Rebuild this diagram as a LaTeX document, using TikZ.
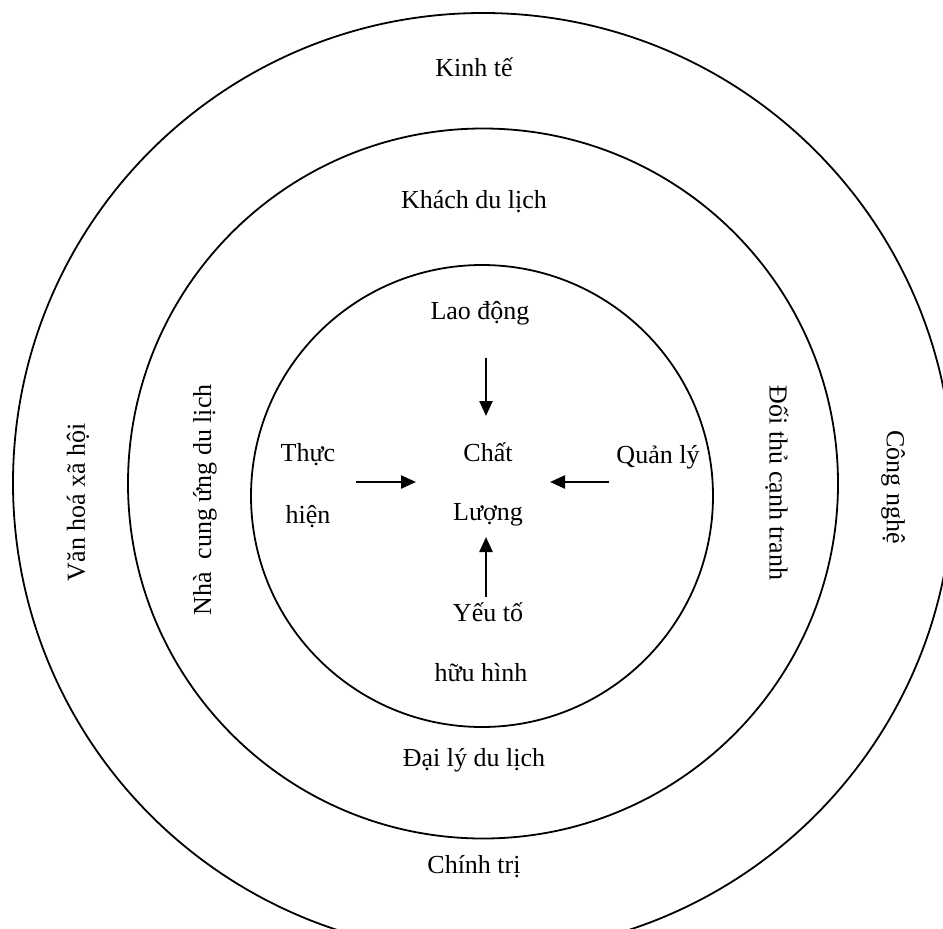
\documentclass[tikz,border=0pt]{standalone}
\usepackage{fontspec}
\setmainfont{Liberation Serif}
\usetikzlibrary{arrows.meta}
\tikzset{
  ring/.style={draw=black, line width=1.8pt},
  lbl/.style={font=\fontsize{26}{28}\selectfont, inner sep=0pt, anchor=center},
  arr/.style={line width=2.4pt, -{Triangle[length=15pt,width=13pt]}}
}
\begin{document}
\begin{tikzpicture}[x=1pt,y=-1pt]
\useasboundingbox (0,0) rectangle (943,929);
% rings
\draw[ring] (483,483) circle[radius=470];
\draw[ring] (483,483.5) circle[radius=355];
\draw[ring] (482,496) circle[radius=231];
% outer ring labels
\node[lbl] (kinhte) at (474,67) {Kinh tế};
\node[lbl] (chinhtri) at (474,867) {Chính trị};
\node[lbl, rotate=90] (vanhoa) at (78,502) {Văn hoá xã hội};
\node[lbl, rotate=-90] (congnghe) at (893,487) {Công nghệ};
% middle ring labels
\node[lbl] (khach) at (474,202) {Khách du lịch};
\node[lbl] (daily) at (474,760) {Đại lý du lịch};
\node[lbl, rotate=90] (nhacungung) at (205,500) {Nhà\ \ cung ứng du lịch};
\node[lbl, rotate=-90] (doithu) at (777,483) {Đối thủ cạnh tranh};
% inner labels
\node[lbl] (laodong) at (480,313) {Lao động};
\node[lbl] (chat) at (488,452) {Chất};
\node[lbl] (luong) at (488,515) {Lượng};
\node[lbl] (thuc) at (308,455) {Thực};
\node[lbl] (hien) at (308,517) {hiện};
\node[lbl] (quanly) at (658,457) {Quản lý};
\node[lbl] (yeuto) at (488,612) {Yếu tố};
\node[lbl] (huuhinh) at (481,673) {hữu hình};
% arrow end points
\coordinate (dS) at (486,358);
\coordinate (dE) at (486,416);
\coordinate (uS) at (486,597);
\coordinate (uE) at (486,537);
\coordinate (rS) at (356,482);
\coordinate (rE) at (416,482);
\coordinate (lS) at (609,482);
\coordinate (lE) at (550,482);
\draw[arr] (dS) -- (dE);
\draw[arr] (uS) -- (uE);
\draw[arr] (rS) -- (rE);
\draw[arr] (lS) -- (lE);
\end{tikzpicture}
\end{document}
